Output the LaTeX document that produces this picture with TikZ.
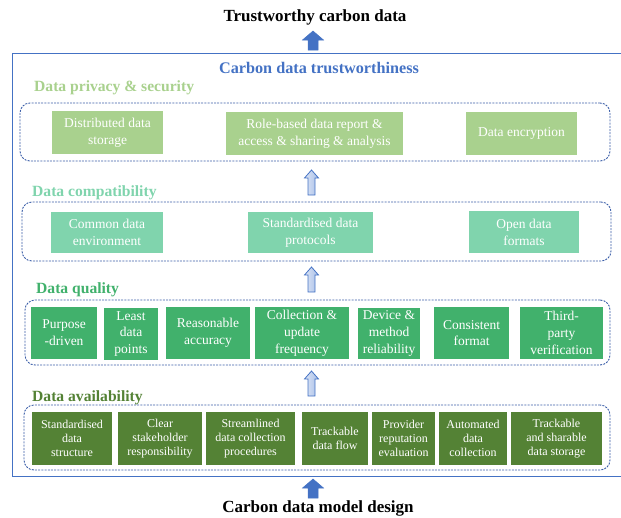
\documentclass[tikz,border=0pt]{standalone}
\usepackage{fontspec}
\setmainfont{Liberation Serif}
\definecolor{cblue}{HTML}{4472C4}
\definecolor{dashblue}{HTML}{3B5EA8}
\definecolor{gpriv}{HTML}{A9D18E}
\definecolor{gcomp}{HTML}{80D4AD}
\definecolor{gqual}{HTML}{41B16C}
\definecolor{gavail}{HTML}{548235}
\definecolor{arrlight}{HTML}{DCE5F5}
\definecolor{arrdark}{HTML}{A9BFE8}
\tikzset{
  dashbox/.style={draw=dashblue, line width=0.9pt, dash pattern=on 2pt off 1.2pt, rounded corners=10pt, inner sep=0pt},
  cbox/.style={draw=none, inner sep=0pt, align=center, text=white},
  big/.style={cbox, font=\fontsize{13.5}{16.8}\selectfont},
  small/.style={cbox, font=\fontsize{12}{14}\selectfont},
  privbox/.style={big, fill=gpriv},
  compbox/.style={big, fill=gcomp},
  qualbox/.style={big, fill=gqual},
  availbox/.style={small, fill=gavail},
  header/.style={anchor=west, inner sep=0pt, font=\fontsize{15.6}{18}\selectfont\bfseries},
  titletext/.style={inner sep=0pt, font=\fontsize{17}{20}\selectfont\bfseries},
  solidup/.pic={\path[fill=cblue, draw=cblue, line width=0.5pt] (0,0) -- (10.5,9) -- (5,9) -- (5,19) -- (-5,19) -- (-5,9) -- (-10.5,9) -- cycle;},
  hollowup/.pic={\path[left color=arrlight, right color=arrdark, draw=cblue, line width=0.8pt] (0,0) -- (7,8) -- (3.5,8) -- (3.5,25) -- (-3.5,25) -- (-3.5,8) -- (-7,8) -- cycle;}
}
\begin{document}
\begin{tikzpicture}[x=1pt,y=-1pt]
\useasboundingbox (0,0) rectangle (621,517);
% outer frame (right side beyond picture)
\begin{scope}
\clip (0,0) rectangle (621,517);
\draw[cblue, line width=1pt] (12,53) rectangle (640,476);
\end{scope}
% titles
\node[titletext] (top) at (315,17) {Trustworthy carbon data};
\node[titletext] (bottom) at (318,508) {Carbon data model design};
\node[inner sep=0pt, font=\fontsize{16.2}{19}\selectfont\bfseries, text=cblue] (frame) at (319,68) {Carbon data trustworthiness};
% headers
\node[header, text=gpriv] (h1) at (34,88) {Data privacy \& security};
\node[header, text=gcomp] (h2) at (32,193) {Data compatibility};
\node[header, text=gqual] (h3) at (36,290) {Data quality};
\node[header, text=gavail] (h4) at (32,398) {Data availability};
% dashed group boxes
\node[dashbox, minimum width=590pt, minimum height=58pt] (d1) at (315,132) {};
\node[dashbox, minimum width=589pt, minimum height=59pt] (d2) at (316.5,231.5) {};
\node[dashbox, minimum width=585pt, minimum height=65pt] (d3) at (317.5,332.5) {};
\node[dashbox, minimum width=586pt, minimum height=65pt] (d4) at (317,437.5) {};
% row 1
\node[privbox, minimum width=111pt, minimum height=43pt] (p1) at (107.5,132.5) {Distributed data\\storage};
\node[privbox, minimum width=177pt, minimum height=43pt] (p2) at (314.5,133.5) {Role-based data report \&\\access \& sharing \& analysis};
\node[privbox, minimum width=111pt, minimum height=43pt] (p3) at (521.5,133.5) {Data encryption};
% row 2
\node[compbox, minimum width=112pt, minimum height=41pt] (c1) at (107,232.5) {Common data\\environment};
\node[compbox, minimum width=125pt, minimum height=41pt] (c2) at (310.5,232.5) {Standardised data\\protocols};
\node[compbox, minimum width=110pt, minimum height=42pt] (c3) at (524,232) {Open data\\formats};
% row 3
\node[qualbox, minimum width=66pt, minimum height=52pt] (q1) at (64,333) {Purpose\\-driven};
\node[qualbox, minimum width=54pt, minimum height=52pt] (q2) at (131,334) {Least\\data\\points};
\node[qualbox, minimum width=84pt, minimum height=52pt] (q3) at (208,333) {Reasonable\\accuracy};
\node[qualbox, minimum width=94pt, minimum height=52pt] (q4) at (302,333) {Collection \&\\update\\frequency};
\node[qualbox, minimum width=62pt, minimum height=51pt] (q5) at (389,333.5) {Device \&\\method\\reliability};
\node[qualbox, minimum width=75pt, minimum height=52pt] (q6) at (471.5,333) {Consistent\\format};
\node[qualbox, minimum width=83pt, minimum height=52pt] (q7) at (561.5,333) {Third-\\party\\verification};
% row 4
\node[availbox, minimum width=80pt, minimum height=53pt] (a1) at (72,438.5) {Standardised\\data\\structure};
\node[availbox, minimum width=84pt, minimum height=53pt] (a2) at (160,438.5) {Clear\\stakeholder\\responsibility};
\node[availbox, minimum width=89pt, minimum height=53pt] (a3) at (250.5,438.5) {Streamlined\\data collection\\procedures};
\node[availbox, minimum width=66pt, minimum height=53pt] (a4) at (335,438.5) {Trackable\\data flow};
\node[availbox, minimum width=63pt, minimum height=53pt] (a5) at (403.5,438.5) {Provider\\reputation\\evaluation};
\node[availbox, minimum width=68pt, minimum height=53pt] (a6) at (473,438.5) {Automated\\data\\collection};
\node[availbox, minimum width=91pt, minimum height=53pt] (a7) at (556.5,438.5) {Trackable\\and sharable\\data storage};
% arrows
\coordinate (ar0) at (313,31);
\coordinate (ar1) at (311.5,170);
\coordinate (ar2) at (311.5,267);
\coordinate (ar3) at (311.5,371);
\coordinate (ar4) at (313,479);
\pic at (ar0) {solidup};
\pic at (ar1) {hollowup};
\pic at (ar2) {hollowup};
\pic at (ar3) {hollowup};
\pic at (ar4) {solidup};
\end{tikzpicture}
\end{document}
